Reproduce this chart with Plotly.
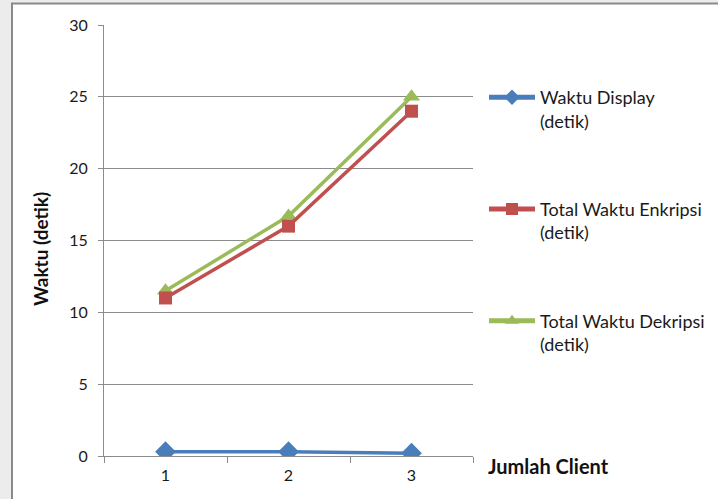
import plotly.graph_objects as go

# Jumlah client (categories on the x axis)
clients = ["1", "2", "3"]

# Measured times in seconds
waktu_display = [0.3, 0.3, 0.2]
total_enkripsi = [11.0, 16.0, 24.0]
total_dekripsi = [11.5, 16.7, 25.0]

series_names = [
    "Waktu Display<br>(detik)",
    "Total Waktu Enkripsi<br>(detik)",
    "Total Waktu Dekripsi<br>(detik)",
]

y_ticks = [0, 5, 10, 15, 20, 25, 30]

FONT = "Lato"
GRID = "#8c8c8c"

fig = go.Figure()

fig.add_trace(go.Scatter(
    x=clients, y=total_dekripsi, name=series_names[2], mode="lines+markers",
    line=dict(color="#9BBB59", width=3.5),
    marker=dict(symbol="triangle-up", size=15, color="#9BBB59"),
    legendgroup="c", legendrank=3,
))
fig.add_trace(go.Scatter(
    x=clients, y=total_enkripsi, name=series_names[1], mode="lines+markers",
    line=dict(color="#C0504D", width=3.5),
    marker=dict(symbol="square", size=13, color="#C0504D"),
    legendgroup="b", legendrank=2,
))
fig.add_trace(go.Scatter(
    x=clients, y=waktu_display, name=series_names[0], mode="lines+markers",
    line=dict(color="#4A7EBB", width=3.5),
    marker=dict(symbol="diamond", size=16, color="#4A7EBB"),
    legendgroup="a", legendrank=1,
))

# outer frame of the chart area
L, R, T, B = 104, 245, 25, 43
W, H = 718 - L - R, 499 - T - B
def px_x(p):
    return (p - L) / W
def px_y(p):
    return (499 - B - p) / H

fig.add_shape(type="rect", xref="paper", yref="paper", layer="below",
              x0=px_x(12), x1=px_x(730), y0=px_y(3.5), y1=px_y(510),
              fillcolor="white", line=dict(color="#8a8a8a", width=2))

fig.update_layout(
    width=718, height=499,
    margin=dict(l=L, r=R, t=T, b=B, autoexpand=False),
    paper_bgcolor="#ececec",
    plot_bgcolor="rgba(0,0,0,0)",
    font=dict(family=FONT, size=16, color="#1a1a1a"),
    showlegend=True,
    legend=dict(
        x=px_x(484), xanchor="left", y=px_y(79), yanchor="top",
        bgcolor="rgba(0,0,0,0)", tracegroupgap=62, itemwidth=46,
        valign="top", itemsizing="constant",
        font=dict(family=FONT, size=18, color="#1a1a1a"),
        traceorder="grouped",
    ),
    xaxis=dict(
        type="category", range=[-0.5, 2.5], tickson="boundaries",
        ticks="outside", ticklen=6, tickcolor=GRID, showgrid=False,
        showline=True, linecolor=GRID, linewidth=1, zeroline=False,
        tickfont=dict(family=FONT, size=16), ticklabelstandoff=5,
    ),
    yaxis=dict(
        range=[0, 30], tickvals=y_ticks, ticks="outside", ticklen=5,
        tickcolor=GRID, showgrid=True, gridcolor=GRID, gridwidth=1,
        showline=True, linecolor=GRID, linewidth=1, zeroline=False,
        tickfont=dict(family=FONT, size=16), ticklabelstandoff=7,
    ),
    annotations=[
        dict(text="<b>Jumlah Client</b>", xref="paper", yref="paper",
             x=px_x(486), y=px_y(466), xanchor="left", yanchor="middle",
             showarrow=False, font=dict(family=FONT, size=20, color="#111")),
        dict(text="<b>Waktu (detik)</b>", xref="paper", yref="paper",
             x=px_x(40), y=px_y(249), xanchor="center", yanchor="middle",
             textangle=-90, showarrow=False,
             font=dict(family=FONT, size=19, color="#111")),
    ],
)

fig.write_html("out.html")
